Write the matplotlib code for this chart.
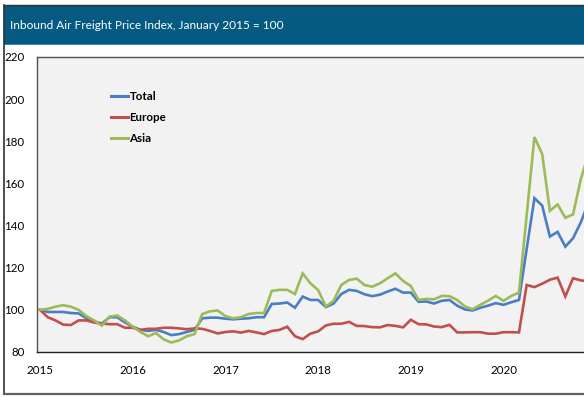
import matplotlib
matplotlib.use("Agg")
import matplotlib.pyplot as plt
from matplotlib.patches import Rectangle
from matplotlib.lines import Line2D

years = ["2015", "2016", "2017", "2018", "2019", "2020"]
series_names = ["Total", "Europe", "Asia"]

total = [100, 99, 99, 99, 98.5, 98.3, 96, 94.5, 93.5, 96.5, 96.5, 94,
         92, 90.5, 90, 90.5, 89.5, 88, 88.5, 89.5, 90.5, 96, 96.3, 96.3,
         95.8, 95.5, 95.8, 96, 96.5, 96.5, 102.8, 103, 103.5, 101, 106.3, 104.7,
         104.7, 101.3, 103, 107.5, 109.5, 109, 107.4, 106.5, 107.2, 108.7, 110, 108.2,
         108.2, 103.8, 104, 103, 104.3, 104.7, 102, 100.2, 99.7, 101, 102, 103.2,
         102.4, 103.6, 104.7, 129, 153, 149.5, 134.8, 137, 130, 134, 141.5, 151]

europe = [100, 96.5, 95, 93, 92.8, 95, 95, 94, 93.5, 93.2, 93.2, 91.5,
          91.5, 90.5, 91, 91, 91.5, 91.5, 91.2, 90.8, 91.2, 91, 90, 88.8,
          89.5, 89.8, 89.2, 90, 89.3, 88.5, 90, 90.5, 92, 87.5, 86.1, 88.7,
          89.8, 92.6, 93.4, 93.4, 94.3, 92.4, 92.3, 91.8, 91.7, 92.8, 92.4, 91.7,
          95.3, 93.2, 93.1, 92.1, 91.8, 92.9, 89.3, 89.3, 89.4, 89.4, 88.7, 88.7,
          89.4, 89.4, 89.3, 111.8, 110.8, 112.4, 114.3, 115.3, 106.4, 115, 114, 113.5]

asia = [100, 100.5, 101.5, 102.2, 101.5, 100, 97, 95, 92.5, 96.8, 97.3, 95,
        92, 89.5, 87.5, 89, 86, 84.5, 85.5, 87.5, 88.5, 98, 99.3, 99.7,
        97, 96, 96.5, 98, 98.5, 98.5, 109, 109.5, 109.5, 107.5, 117.3, 112.6,
        109.4, 101.6, 104.3, 111.8, 114.2, 114.8, 111.8, 111, 112.6, 115, 117.3, 113.7,
        111.3, 104.7, 105.2, 105, 106.6, 106.5, 104.7, 101.6, 100.3, 102.4, 104.4, 106.6,
        104.3, 106.6, 108.2, 145, 182, 174, 147, 150, 143.7, 145.3, 162, 174]

colors = ["#4A7EC4", "#C0504D", "#9BBB59"]
title = "Inbound Air Freight Price Index, January 2015 = 100"

W, H = 584, 399
fig = plt.figure(figsize=(W / 100, H / 100), dpi=100)
fig.patch.set_facecolor("white")

def fx(px):
    return px / W

def fy(py):
    return 1 - py / H

# outer frame and header
fig.patches.append(Rectangle((fx(4), fy(44)), 1, fy(5) - fy(44),
                             transform=fig.transFigure, facecolor="#045A80",
                             edgecolor="none", zorder=0))
fig.patches.append(Rectangle((fx(4), fy(45)), 1, fy(43.5) - fy(45),
                             transform=fig.transFigure, facecolor="#3C8AA8",
                             edgecolor="none", zorder=0))
fig.lines.append(Line2D([fx(3.5), fx(3.5)], [fy(4.5), fy(393.5)],
                        transform=fig.transFigure, color="#303030", lw=1.2))
fig.lines.append(Line2D([fx(3.5), 1], [fy(393.5), fy(393.5)],
                        transform=fig.transFigure, color="#606060", lw=1.6))
fig.lines.append(Line2D([fx(3.5), 1], [fy(4.8), fy(4.8)],
                        transform=fig.transFigure, color="#303030", lw=1.0))
fig.text(fx(10), fy(25.5), title, color="white", fontsize=8.55,
         family=["Lato", "DejaVu Sans"], va="center", ha="left")

# axes
left_px, right_px, top_px, bot_px = 37, 596, 57, 352
ax = fig.add_axes([fx(left_px), fy(bot_px), fx(right_px - left_px),
                   fy(top_px) - fy(bot_px)])
ax.set_facecolor("#F2F2F2")
x = list(range(len(total)))
for name, vals, c in zip(series_names, [total, europe, asia], colors):
    ax.plot(x, vals, color=c, lw=1.9, label=name, solid_joinstyle="miter")

ax.set_ylim(80, 220)
ax.set_xlim(-0.39, 71.97)
ax.set_yticks(range(80, 221, 20))
ax.set_xticks([12 * k for k in range(len(years))])
ax.set_xticklabels(years)
ax.tick_params(axis="both", length=0, labelsize=8.3)
ax.tick_params(axis="y", pad=9)
ax.tick_params(axis="x", pad=9)
for lab in ax.get_xticklabels() + ax.get_yticklabels():
    lab.set_family(["Lato", "DejaVu Sans"])
    lab.set_color("black")
for side in ["top", "left"]:
    ax.spines[side].set_color("#505050")
    ax.spines[side].set_linewidth(1.0)
ax.spines["bottom"].set_color("#202020")
ax.spines["bottom"].set_linewidth(1.0)
ax.spines["right"].set_visible(False)

leg = ax.legend(loc="upper left", bbox_to_anchor=(fx(111), fy(91)),
                bbox_transform=fig.transFigure, frameon=False, borderpad=0,
                borderaxespad=0, handlelength=1.45, handletextpad=0.15,
                labelspacing=0.85, prop={"family": "Lato", "weight": "bold", "size": 8.3})
for h in leg.get_lines():
    h.set_linewidth(2.2)

fig.savefig("out.png", dpi=100)
